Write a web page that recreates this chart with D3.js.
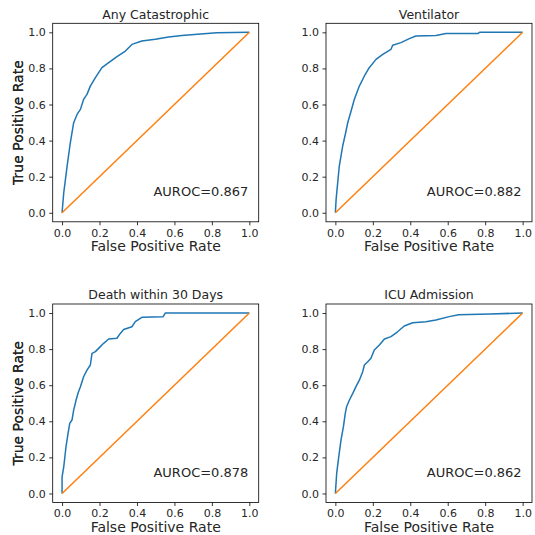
<!DOCTYPE html>
<html>
<head>
<meta charset="utf-8">
<script src="https://cdn.jsdelivr.net/npm/d3@7"></script>
<style>
  body { margin: 0; background: #fff; }
  svg { font-family: "DejaVu Sans", sans-serif; }
</style>
</head>
<body>
<div id="chart"></div>
<script>
// ROC curves
const titles = ['Any Catastrophic', 'Ventilator', 'Death within 30 Days', 'ICU Admission'];
const aurocs = ['0.867', '0.882', '0.878', '0.862'];
const tickValues = [0, 0.2, 0.4, 0.6, 0.8, 1.0];

const anyCatFpr = [0, 0.009, 0.027, 0.044, 0.062, 0.08, 0.098, 0.115, 0.133, 0.151, 0.178, 0.213, 0.249, 0.293, 0.338, 0.373, 0.426, 0.498, 0.569, 0.64, 0.74, 0.826, 1];
const anyCatTpr = [0, 0.111, 0.259, 0.388, 0.499, 0.545, 0.573, 0.628, 0.656, 0.702, 0.749, 0.804, 0.832, 0.865, 0.896, 0.933, 0.952, 0.961, 0.974, 0.983, 0.991, 0.998, 1];

const ventFpr = [0, 0.004, 0.021, 0.039, 0.053, 0.066, 0.084, 0.101, 0.128, 0.155, 0.181, 0.217, 0.253, 0.297, 0.306, 0.35, 0.395, 0.43, 0.537, 0.591, 0.76, 0.77, 1];
const ventTpr = [0, 0.074, 0.259, 0.37, 0.434, 0.499, 0.564, 0.628, 0.702, 0.758, 0.804, 0.85, 0.878, 0.906, 0.928, 0.943, 0.965, 0.98, 0.983, 0.993, 0.993, 1, 1];

const deathFpr = [0, 0, 0.009, 0.014, 0.021, 0.032, 0.041, 0.053, 0.062, 0.075, 0.085, 0.098, 0.115, 0.133, 0.151, 0.16, 0.178, 0.195, 0.222, 0.249, 0.293, 0.311, 0.329, 0.373, 0.391, 0.426, 0.54, 0.551, 1];
const deathTpr = [0, 0.092, 0.148, 0.194, 0.259, 0.333, 0.388, 0.407, 0.462, 0.518, 0.555, 0.592, 0.647, 0.684, 0.712, 0.776, 0.786, 0.804, 0.832, 0.856, 0.86, 0.887, 0.909, 0.924, 0.952, 0.976, 0.98, 1, 1];

const icuFpr = [0, 0.007, 0.018, 0.03, 0.043, 0.053, 0.06, 0.075, 0.093, 0.11, 0.128, 0.146, 0.155, 0.173, 0.19, 0.208, 0.235, 0.262, 0.297, 0.332, 0.368, 0.413, 0.484, 0.537, 0.608, 0.658, 0.827, 1];
const icuTpr = [0, 0.111, 0.203, 0.296, 0.37, 0.444, 0.481, 0.518, 0.555, 0.592, 0.628, 0.675, 0.712, 0.73, 0.749, 0.795, 0.823, 0.856, 0.869, 0.896, 0.928, 0.946, 0.952, 0.961, 0.98, 0.99, 0.995, 1];

const curves = [
  [anyCatFpr, anyCatTpr],
  [ventFpr, ventTpr],
  [deathFpr, deathTpr],
  [icuFpr, icuTpr]
];

const svg = d3.select('#chart').append('svg').attr('width', 535).attr('height', 535);

const panelW = 206, panelH = 198.5;
const lefts = [52.7, 326, 52.7, 326];
const tops = [23.3, 23.3, 304, 304];

function drawPanel(i) {
  const left = lefts[i], top = tops[i];
  const x = d3.scaleLinear().domain([-0.05, 1.05]).range([0, panelW]);
  const y = d3.scaleLinear().domain([-0.05, 1.05]).range([panelH, 0]);
  const g = svg.append('g').attr('transform', `translate(${left},${top})`);

  const pts = curves[i][0].map((f, k) => [f, curves[i][1][k]]);
  const line = d3.line().x(d => x(d[0])).y(d => y(d[1]));

  g.append('path')
    .datum(pts)
    .attr('fill', 'none')
    .attr('stroke', '#1f77b4')
    .attr('stroke-width', 1.5)
    .attr('stroke-linejoin', 'round')
    .attr('d', line);

  g.append('path')
    .datum([[0, 0], [1, 1]])
    .attr('fill', 'none')
    .attr('stroke', '#ff7f0e')
    .attr('stroke-width', 1.5)
    .attr('d', line);

  const xAxis = g.append('g')
    .attr('transform', `translate(0,${panelH})`)
    .call(d3.axisBottom(x).tickValues(tickValues).tickFormat(d3.format('.1f')).tickSize(3.5).tickPadding(3.5));
  const yAxis = g.append('g')
    .call(d3.axisLeft(y).tickValues(tickValues).tickFormat(d3.format('.1f')).tickSize(3.5).tickPadding(3.5));

  [xAxis, yAxis].forEach(a => {
    a.select('.domain').remove();
    a.selectAll('.tick line').attr('stroke', '#000').attr('stroke-width', 0.8);
    a.selectAll('.tick text').attr('fill', '#262626').style('font-size', '11px').style('font-family', '"DejaVu Sans"');
  });

  g.append('rect')
    .attr('width', panelW)
    .attr('height', panelH)
    .attr('fill', 'none')
    .attr('stroke', '#000')
    .attr('stroke-width', 0.8);

  g.append('text')
    .attr('x', panelW / 2)
    .attr('y', -4.8)
    .attr('text-anchor', 'middle')
    .style('font-size', '12.5px')
    .attr('fill', '#262626')
    .text(titles[i]);

  g.append('text')
    .attr('x', x(1.0) - 1)
    .attr('y', panelH - 26)
    .attr('text-anchor', 'end')
    .style('font-size', '13px')
    .attr('fill', '#262626')
    .text('AUROC=' + aurocs[i]);

  g.append('text')
    .attr('x', panelW / 2)
    .attr('y', panelH + 29.5)
    .attr('text-anchor', 'middle')
    .style('font-size', '14px')
    .attr('fill', '#262626')
    .text('False Positive Rate');

  g.append('text')
    .attr('transform', `translate(${23 - left},${panelH / 2}) rotate(-90)`)
    .attr('text-anchor', 'middle')
    .style('font-size', '14px')
    .attr('fill', '#262626')
    .text('True Positive Rate');
}

// y label of right column sits left of its own axes
lefts.forEach((l, i) => drawPanel(i));
</script>
</body>
</html>
